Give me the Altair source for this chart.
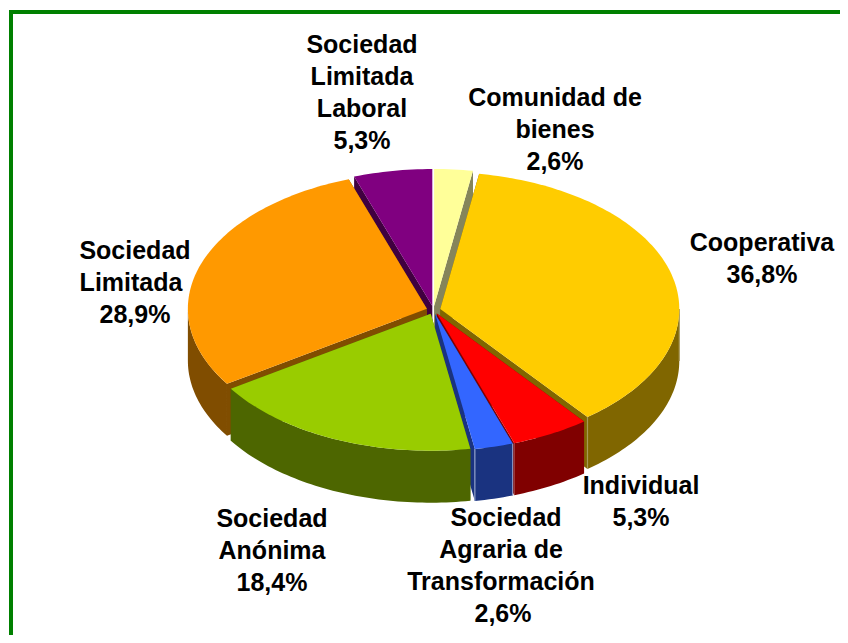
import math
import altair as alt
import pandas as pd

# --- chart values ---
categories = ["Comunidad de bienes", "Cooperativa", "Individual",
              "Sociedad Agraria de Transformación", "Sociedad Anónima",
              "Sociedad Limitada", "Sociedad Limitada Laboral"]
percent = [2.6, 36.8, 5.3, 2.6, 18.4, 28.9, 5.3]
top_colors = ["#FFFF99", "#FFCC00", "#FF0000", "#3366FF", "#99CC00", "#FF9900", "#800080"]
wall_colors = ["#85855A", "#806600", "#800000", "#1A3380", "#4D6600", "#804D00", "#400040"]
edge_colors = [None, "#A8985A", None, "#8F9FC8", None, None, None]
label_lines = [
    ["Comunidad de", "bienes", "2,6%"],
    ["Cooperativa", "36,8%"],
    ["Individual", "5,3%"],
    ["Sociedad", "Agraria de", "Transformación", "2,6%"],
    ["Sociedad", "Anónima", "18,4%"],
    ["Sociedad", "Limitada", "28,9%"],
    ["Sociedad", "Limitada", "Laboral", "5,3%"],
]

# --- layout (page pixels) ---
W, H = 832, 627
CX, CY, RX, RY, DEPTH, EXPLODE = 433.5, 310.0, 239.0, 137.0, 52.0, 7.0
label_anchor = [(555, 98), (762, 243), (641, 486), (501, 518), (272, 519), (135, 251), (362, 45)]
line_nudge = {(3, 0): 5, (3, 3): 2, (5, 1): -4}
label_step = 32
paint_order = [0, 6, 1, 5, 2, 3, 4]

total = sum(percent)
starts = [sum(percent[:i]) / total * 2 * math.pi for i in range(len(percent))]
ends = [sum(percent[:i + 1]) / total * 2 * math.pi for i in range(len(percent))]


def ell(ax, a, b):
    return ax[0] + RX * math.sin(a) * b, ax[1] - RY * math.cos(a) * b


rows = []
pid = 0


def add(points, color):
    global pid
    for n, (x, y) in enumerate(points):
        rows.append({"part": f"p{pid:03d}", "seq": n, "x": x - 8, "y": y - 8, "color": color})
    pid += 1


def arc_pts(ax, a0, a1):
    steps = max(2, int(abs(a1 - a0) / 0.02))
    return [ell(ax, a0 + (a1 - a0) * i / steps, 1) for i in range(steps + 1)]


for i in paint_order:
    a0, a1 = starts[i], ends[i]
    mid = (a0 + a1) / 2
    apex = (CX + EXPLODE * math.sin(mid), CY - EXPLODE * RY / RX * math.cos(mid))
    # cut walls
    for a in (a0, a1):
        p = ell(apex, a, 1)
        add([apex, p, (p[0], p[1] + DEPTH), (apex[0], apex[1] + DEPTH)], wall_colors[i])
    # outer wall, front half only
    w0, w1 = max(a0, math.pi / 2), min(a1, 3 * math.pi / 2)
    if w1 > w0:
        upper = arc_pts(apex, w0, w1)
        lower = [(x, y + DEPTH) for x, y in reversed(upper)]
        add(upper + lower, wall_colors[i])
        if edge_colors[i]:
            for a in (w0, w1):
                p = ell(apex, a, 1)
                add([(p[0] - 0.6, p[1]), (p[0] + 0.6, p[1]),
                     (p[0] + 0.6, p[1] + DEPTH), (p[0] - 0.6, p[1] + DEPTH)], edge_colors[i])
    # top face
    add([apex] + arc_pts(apex, a0, a1), top_colors[i])

df = pd.DataFrame(rows)

text_rows = []
for li, ((ax, ay), lines) in enumerate(zip(label_anchor, label_lines)):
    for j, t in enumerate(lines):
        text_rows.append({"x": ax - 8 + line_nudge.get((li, j), 0),
                          "y": ay - 8 + j * label_step, "t": t})
tf = pd.DataFrame(text_rows)

xs = alt.Scale(domain=[0, W], range=[0, W])
ys = alt.Scale(domain=[0, H], range=[0, H])

slices = alt.Chart(df).mark_line(filled=True, strokeWidth=0).encode(
    x=alt.X("x:Q", scale=xs, axis=None),
    y=alt.Y("y:Q", scale=ys, axis=None),
    detail="part:N",
    order="seq:Q",
    fill=alt.Fill("color:N", scale=None),
)

labels = alt.Chart(tf).mark_text(
    font="Liberation Sans", fontSize=25, fontWeight="bold", color="#000000",
    align="center", baseline="middle",
).encode(
    x=alt.X("x:Q", scale=xs, axis=None),
    y=alt.Y("y:Q", scale=ys, axis=None),
    text="t:N",
)

rule_h = alt.Chart(pd.DataFrame({"a": [0]})).mark_rule(color="#008000", strokeWidth=4).encode(
    x=alt.value(1), x2=alt.value(W), y=alt.value(4))
rule_v = alt.Chart(pd.DataFrame({"a": [0]})).mark_rule(color="#008000", strokeWidth=4).encode(
    x=alt.value(3), y=alt.value(2), y2=alt.value(H))

chart = alt.layer(rule_h, rule_v, slices, labels).properties(
    width=W, height=H, padding=0, background="white", autosize="none"
).configure_view(stroke=None)

chart.save("out.html", embed_options={"renderer": "svg", "actions": False})
